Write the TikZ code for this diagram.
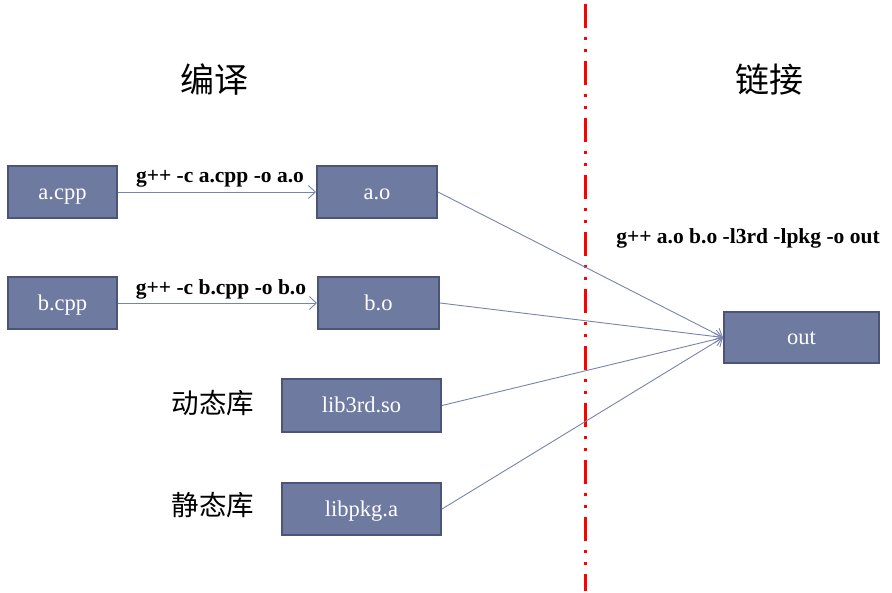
\documentclass[tikz,border=0pt]{standalone}
\usepackage{fontspec}
\setmainfont{Liberation Serif}
\newfontfamily\cjk{Noto Sans CJK SC}
\usetikzlibrary{arrows.meta}
\definecolor{boxfill}{HTML}{6F7AA1}
\definecolor{boxedge}{HTML}{4C5578}
\definecolor{linkline}{HTML}{7883AE}
\tikzset{
  filebox/.style={draw=boxedge, line width=2pt, fill=boxfill, text=white, inner sep=0pt,
    text height=15pt, text depth=0pt, font=\fontsize{22.5}{24}\selectfont},
  cmdlabel/.style={font=\bfseries\fontsize{21.5}{23}\selectfont, inner sep=0pt},
  cjktitle/.style={font=\cjk\fontsize{34}{36}\selectfont, inner sep=0pt},
  cjklabel/.style={font=\cjk\fontsize{27.5}{29}\selectfont, inner sep=0pt},
  conn/.style={draw=linkline, line width=0.9pt, -{Straight Barb[length=7pt,width=13pt,line width=0.9pt]}},
  divider/.style={draw=red, line width=3pt, dash pattern=on 24pt off 9pt on 3pt off 9pt on 3pt off 9pt}
}
\begin{document}
\begin{tikzpicture}[x=1pt,y=-1pt]
\useasboundingbox (0,0) rectangle (892,593);
% boxes
\node[filebox, minimum width=109pt, minimum height=52pt] (acpp) at (62.5,192) {a.cpp};
\node[filebox, minimum width=120pt, minimum height=52pt] (ao) at (377,192) {a.o};
\node[filebox, minimum width=109pt, minimum height=52pt] (bcpp) at (62.5,303) {b.cpp};
\node[filebox, minimum width=121pt, minimum height=52pt] (bo) at (378.5,303) {b.o};
\node[filebox, minimum width=159pt, minimum height=53pt] (so) at (361.5,405.5) {lib3rd.so};
\node[filebox, minimum width=159pt, minimum height=52pt] (pkg) at (361.5,509) {libpkg.a};
\node[filebox, minimum width=155pt, minimum height=51pt] (out) at (801.5,337.5) {out};
% titles and labels
\node[cjktitle] (t1) at (214,80) {编译};
\node[cjktitle] (t2) at (769,80) {链接};
\node[cjklabel] (l1) at (213,403) {动态库};
\node[cjklabel] (l2) at (213,505) {静态库};
\node[cmdlabel] (c1) at (220,179) {g++ -c a.cpp -o a.o};
\node[cmdlabel] (c2) at (221,289) {g++ -c b.cpp -o b.o};
\node[cmdlabel] (c3) at (748,238) {g++ a.o b.o -l3rd -lpkg -o out};
% divider
\coordinate (dtop) at (585,4);
\coordinate (dbot) at (585,591);
\draw[divider] (dtop) -- (dbot);
% connectors
\draw[conn] (acpp.east) -- (ao.west);
\draw[conn] (bcpp.east) -- (bo.west);
\draw[conn] (ao.east) -- (out.west);
\draw[conn] (bo.east) -- (out.west);
\draw[conn] (so.east) -- (out.west);
\draw[conn] (pkg.east) -- (out.west);
\end{tikzpicture}
\end{document}
